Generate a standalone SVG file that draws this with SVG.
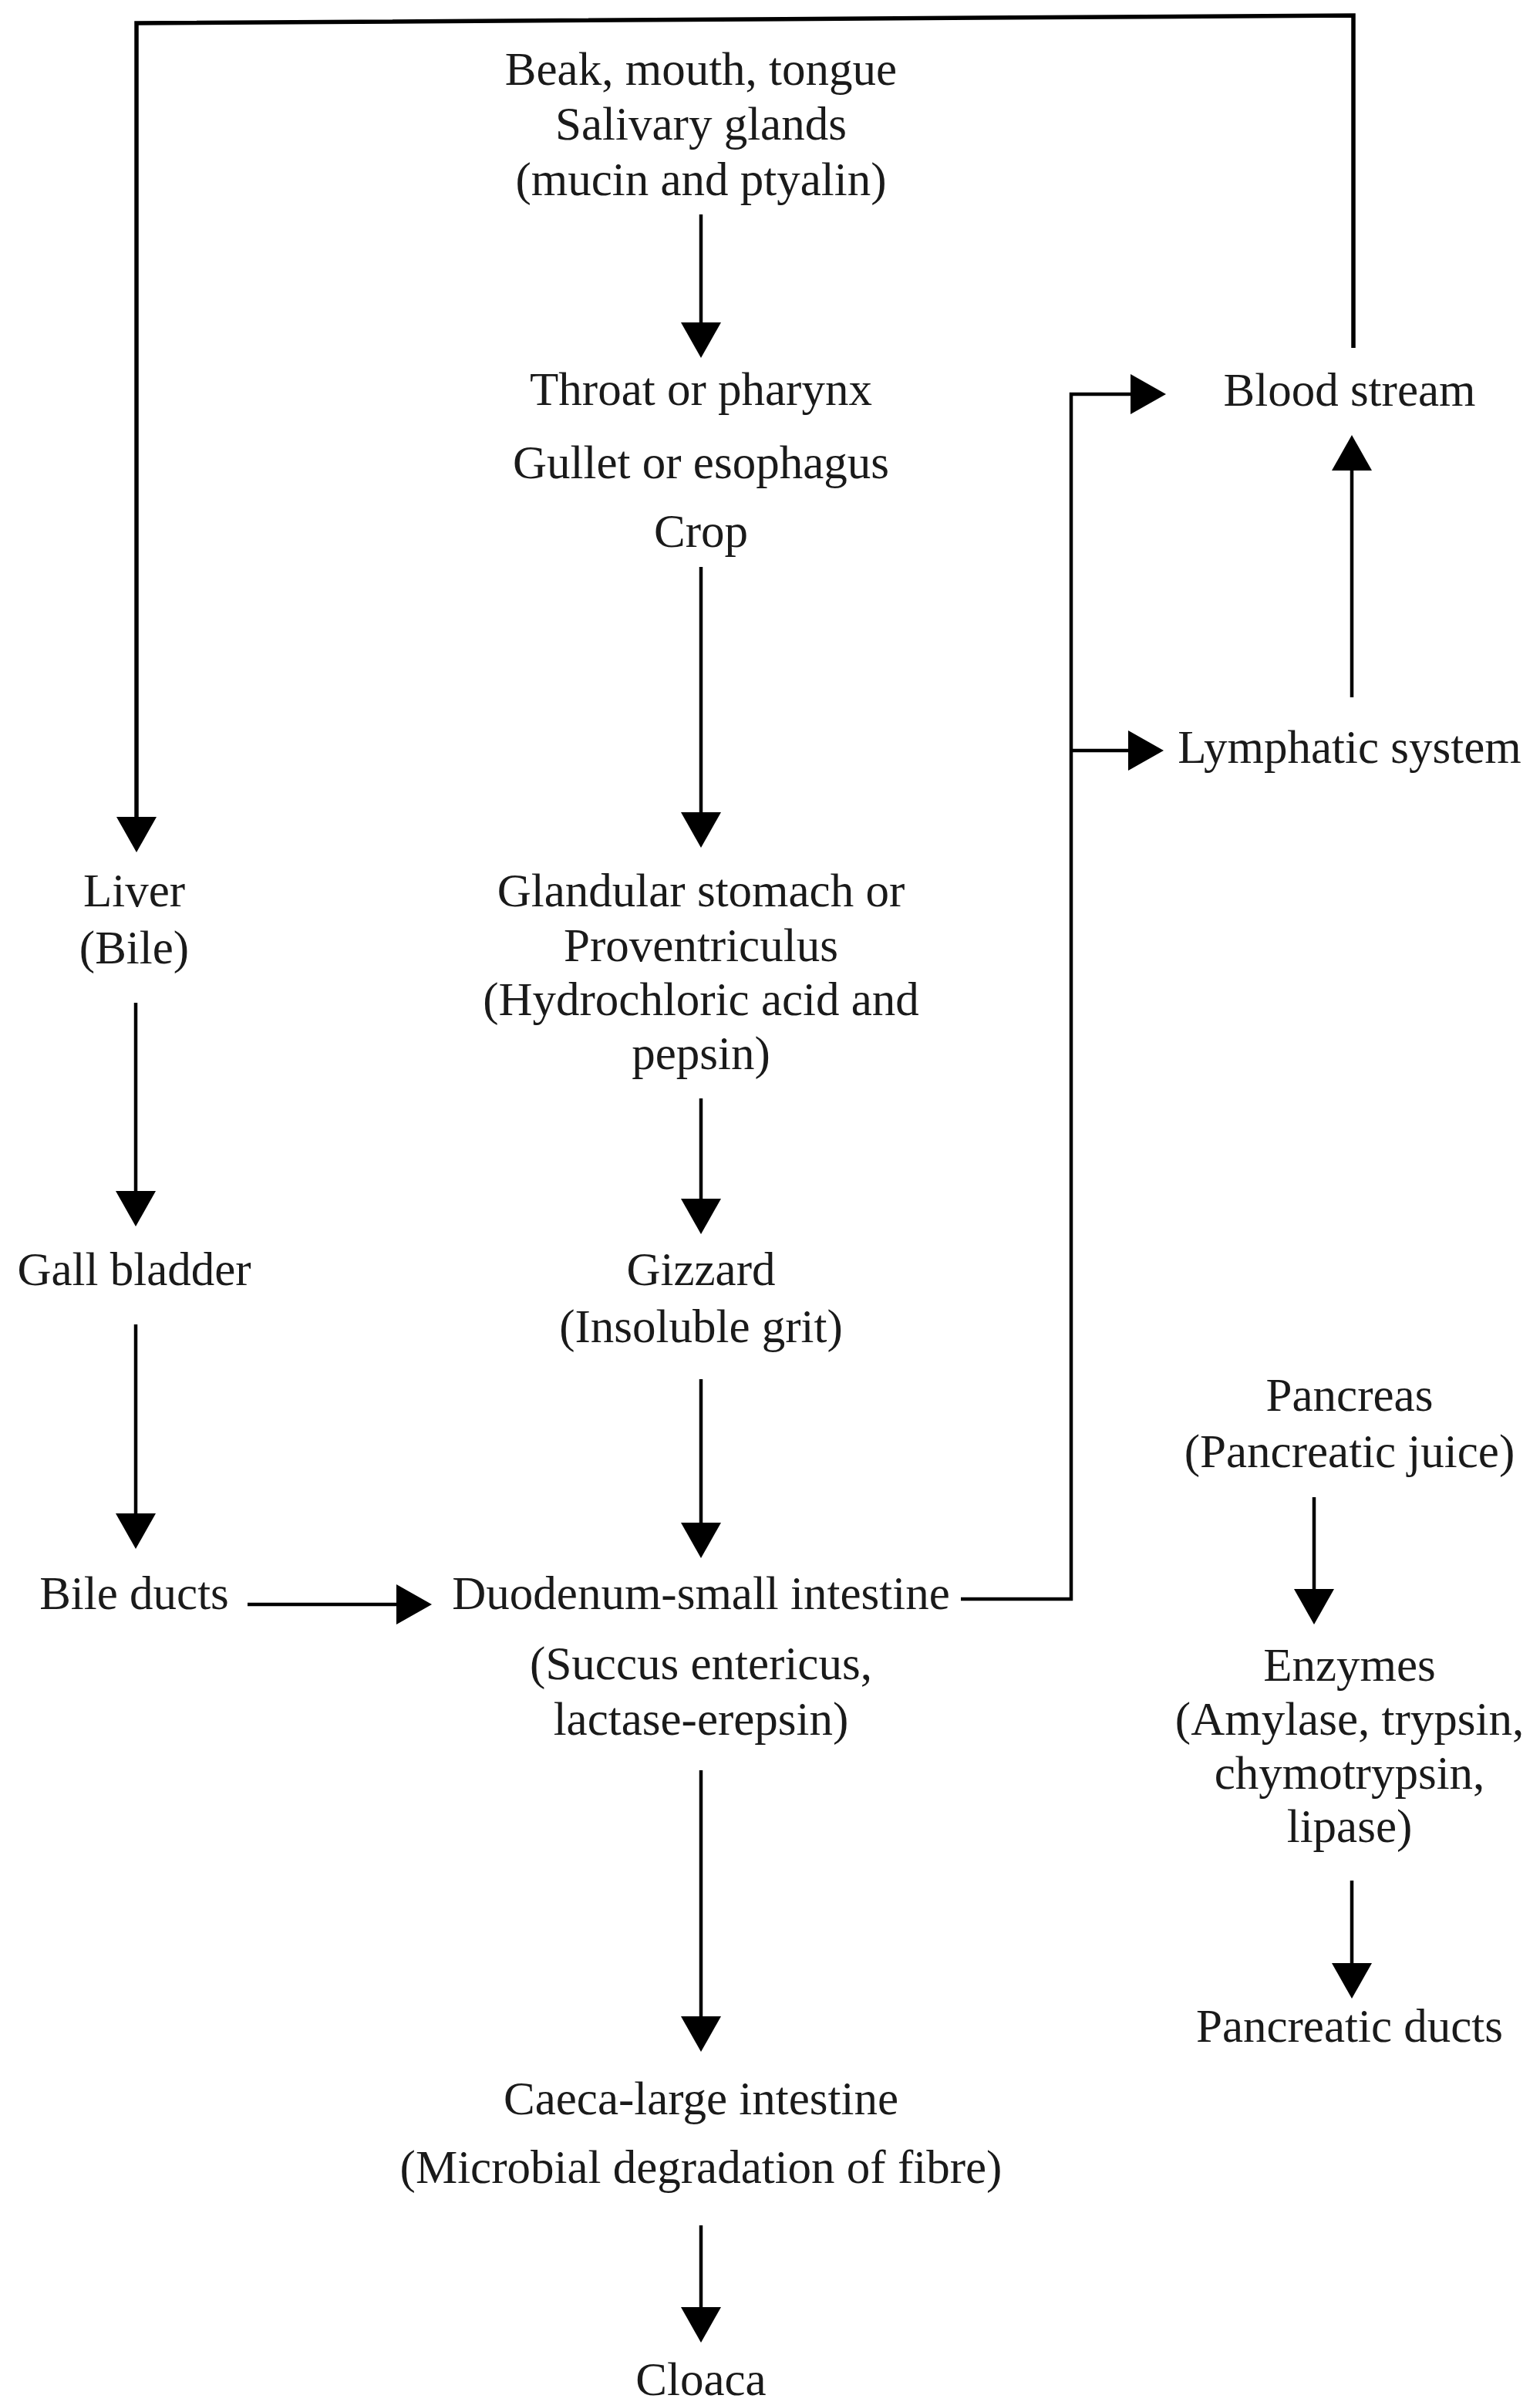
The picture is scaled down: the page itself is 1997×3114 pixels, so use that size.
<svg xmlns="http://www.w3.org/2000/svg" width="1997" height="3114" viewBox="0 0 1997 3114">
<style>
text{font-family:"Liberation Serif","Times New Roman",serif;font-size:61px;fill:#1a1a1a;text-anchor:middle}
.c{fill:none;stroke:#000;stroke-width:4.5}
.t{stroke-width:5.5}
</style>
<defs>
<marker id="ah" viewBox="0 0 46 52" refX="10" refY="26" markerWidth="46" markerHeight="52" markerUnits="userSpaceOnUse" orient="auto">
<path d="M0,0 L46,26 L0,52 Z" fill="#000"/>
</marker>
</defs>
<rect width="1997" height="3114" fill="#fff"/>
<g id="connectors">
<path class="c" d="M909,278 V428" marker-end="url(#ah)"/>
<path class="c" d="M909,735 V1063" marker-end="url(#ah)"/>
<path class="c" d="M909,1424 V1564" marker-end="url(#ah)"/>
<path class="c" d="M909,1788 V1984" marker-end="url(#ah)"/>
<path class="c" d="M909,2295 V2624" marker-end="url(#ah)"/>
<path class="c" d="M909,2885 V3001" marker-end="url(#ah)"/>
<path class="c t" d="M1755,451 V20 L177,30 V1069" marker-end="url(#ah)"/>
<path class="c" d="M176,1300 V1554" marker-end="url(#ah)"/>
<path class="c" d="M176,1717 V1972" marker-end="url(#ah)"/>
<path class="c" d="M321,2080 H524" marker-end="url(#ah)"/>
<path class="c" d="M1246,2073 H1389 V511 H1476" marker-end="url(#ah)"/>
<path class="c" d="M1389,973 H1473" marker-end="url(#ah)"/>
<path class="c" d="M1753,904 V600" marker-end="url(#ah)"/>
<path class="c" d="M1704,1941 V2070" marker-end="url(#ah)"/>
<path class="c" d="M1753,2438 V2555" marker-end="url(#ah)"/>
</g>
<g id="mouth"><text x="909" y="110">Beak, mouth, tongue</text><text x="909" y="181">Salivary glands</text><text x="909" y="253">(mucin and ptyalin)</text></g>
<g id="throat"><text x="909" y="525">Throat or pharynx</text><text x="909" y="620">Gullet or esophagus</text><text x="909" y="709">Crop</text></g>
<g id="proventriculus"><text x="909" y="1175">Glandular stomach or</text><text x="909" y="1246">Proventriculus</text><text x="909" y="1316">(Hydrochloric acid and</text><text x="909" y="1386">pepsin)</text></g>
<g id="gizzard"><text x="909" y="1666">Gizzard</text><text x="909" y="1740">(Insoluble grit)</text></g>
<g id="duodenum"><text x="909" y="2086">Duodenum-small intestine</text><text x="909" y="2177">(Succus entericus,</text><text x="909" y="2249">lactase-erepsin)</text></g>
<g id="caeca"><text x="909" y="2741">Caeca-large intestine</text><text x="909" y="2830">(Microbial degradation of fibre)</text></g>
<g id="cloaca"><text x="909" y="3105">Cloaca</text></g>
<g id="liver"><text x="174" y="1175">Liver</text><text x="174" y="1249">(Bile)</text></g>
<g id="gallbladder"><text x="174" y="1666">Gall bladder</text></g>
<g id="bileducts"><text x="174" y="2086">Bile ducts</text></g>
<g id="bloodstream"><text x="1750" y="526">Blood stream</text></g>
<g id="lymphatic"><text x="1750" y="989">Lymphatic system</text></g>
<g id="pancreas"><text x="1750" y="1829">Pancreas</text><text x="1750" y="1902">(Pancreatic juice)</text></g>
<g id="enzymes"><text x="1750" y="2179">Enzymes</text><text x="1750" y="2249">(Amylase, trypsin,</text><text x="1750" y="2319">chymotrypsin,</text><text x="1750" y="2388">lipase)</text></g>
<g id="pancreaticducts"><text x="1750" y="2647">Pancreatic ducts</text></g>
</svg>
